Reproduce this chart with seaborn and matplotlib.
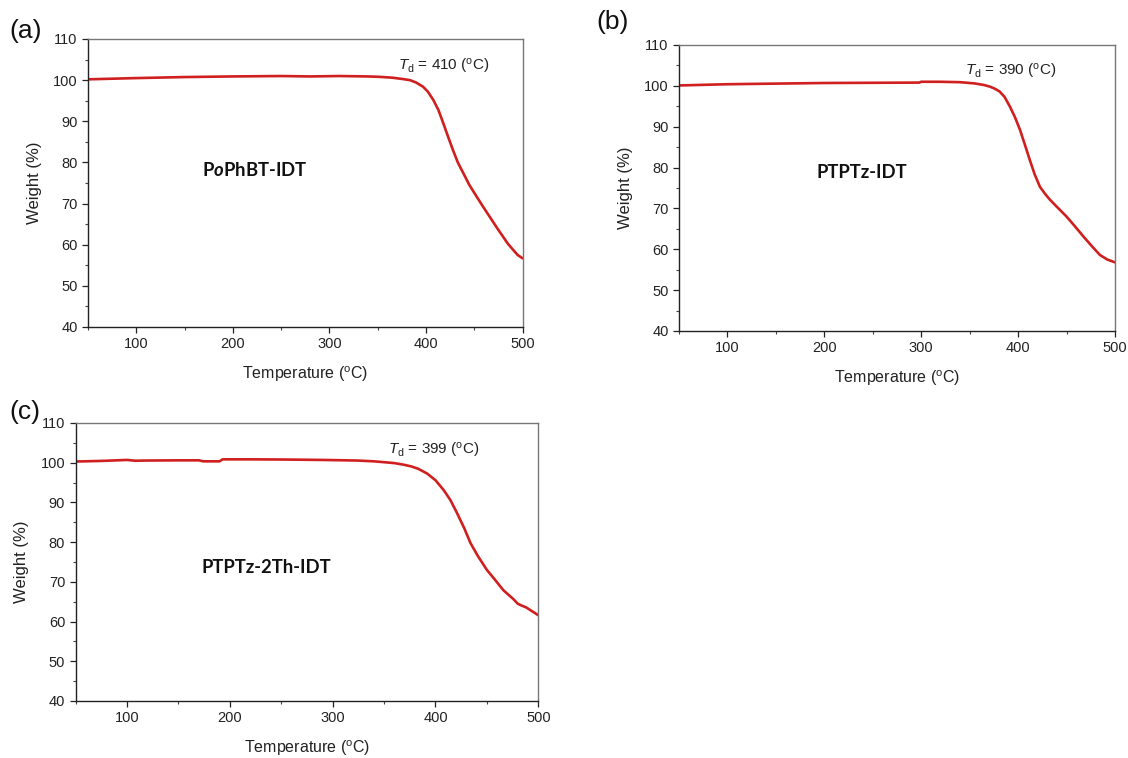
import matplotlib
matplotlib.use("Agg")
import matplotlib.pyplot as plt
import seaborn as sns
import pandas as pd
from matplotlib.ticker import MultipleLocator

sns.set_style("ticks")
plt.rcParams['font.family'] = ['Liberation Sans', 'DejaVu Sans']
plt.rcParams['mathtext.fontset'] = 'custom'
plt.rcParams['mathtext.rm'] = 'Liberation Sans'
plt.rcParams['mathtext.it'] = 'Liberation Sans:italic'
plt.rcParams['mathtext.bf'] = 'Lato:bold'
plt.rcParams['mathtext.bfit'] = 'Lato:bold:italic'

# ---- data ----
temp_a = [50, 75, 100, 150, 200, 250, 280, 310, 340, 352, 365, 375, 383.5, 390, 397, 402,
          407.6, 413, 418, 423, 428, 433, 438.7, 445, 452.5, 459, 466, 473, 480, 485, 490.5, 495, 500]
weight_a = [100.2, 100.35, 100.5, 100.75, 100.9, 101.0, 100.9, 101.0, 100.9, 100.8, 100.6, 100.3, 100.0,
            99.4, 98.4, 97.2, 95.2, 92.7, 89.5, 86.2, 83.0, 80.0, 77.4, 74.5, 71.7, 69.3, 66.8, 64.3,
            61.9, 60.2, 58.7, 57.5, 56.7]

temp_b = [50, 100, 150, 200, 250, 298, 300, 319, 340, 355, 365, 371, 376, 381, 386, 391.6, 397, 402,
          407, 412, 417, 422.5, 428, 433, 440, 450, 458, 467.5, 476, 484.5, 492, 500]
weight_b = [100.1, 100.4, 100.55, 100.7, 100.75, 100.8, 101.0, 101.0, 100.9, 100.6, 100.2, 99.8, 99.3,
            98.6, 97.3, 94.9, 92.2, 89.2, 85.6, 81.9, 78.4, 75.3, 73.5, 72.1, 70.4, 68.0, 65.8, 63.1,
            60.8, 58.6, 57.5, 56.8]

temp_c = [50, 75, 100, 108, 120, 150, 170, 174, 190, 193, 220, 254, 290, 323.6, 340, 351.5, 360, 369,
          376, 383, 391.7, 400, 408, 414.5, 421, 428, 434, 441, 450, 458, 466, 476, 480, 484, 488, 494, 500]
weight_c = [100.3, 100.45, 100.7, 100.5, 100.55, 100.6, 100.6, 100.35, 100.35, 100.85, 100.85, 100.8,
            100.7, 100.55, 100.35, 100.1, 99.9, 99.5, 99.1, 98.5, 97.3, 95.6, 93.1, 90.6, 87.3, 83.5,
            79.8, 76.6, 73.0, 70.5, 67.9, 65.6, 64.5, 64.0, 63.6, 62.6, 61.6]

td_values = [410, 390, 399]
sample_names = ["P$\\mathbfit{o}$PhBT-IDT", "PTPTz-IDT", "PTPTz-2Th-IDT"]
panel_tags = ["(a)", "(b)", "(c)"]
x_ticks = [100, 200, 300, 400, 500]
y_ticks = [40, 50, 60, 70, 80, 90, 100, 110]

series = [(temp_a, weight_a), (temp_b, weight_b), (temp_c, weight_c)]

fig = plt.figure(figsize=(11.28, 7.58), dpi=100)
rects = [
    (88/1128, 1-327/758, (522.5-88)/1128, (327-39)/758),
    (679/1128, 1-331/758, (1115-679)/1128, (331-45)/758),
    (75.6/1128, 1-701/758, (538.3-75.6)/1128, (701-423)/758),
]
# annotation positions (data coords)
td_pos = [(371, 103.2), (345, 103.4), (354, 103.2)]
name_pos = [(223, 78.2), (239, 78.9), (235, 73.7)]
tag_pos = [(9/1128, 1-31/758), (596/1128, 1-22/758), (9/1128, 1-412/758)]

red = "#cf1f1f"
for i, ((t, w), r) in enumerate(zip(series, rects)):
    ax = fig.add_axes(r)
    df = pd.DataFrame({"Temperature": t, "Weight": w})
    sns.lineplot(data=df, x="Temperature", y="Weight", ax=ax, color=red, linewidth=1.9,
                 sort=True, estimator=None, solid_joinstyle='round', solid_capstyle='round')
    ax.set_xlim(50, 500)
    ax.set_ylim(40, 110)
    ax.set_xticks(x_ticks)
    ax.set_yticks(y_ticks)
    ax.xaxis.set_minor_locator(MultipleLocator(50))
    ax.yaxis.set_minor_locator(MultipleLocator(5))
    ax.tick_params(axis='both', which='major', direction='out', length=4.5, width=0.9,
                   labelsize=10.5, colors='#222222', pad=3)
    ax.tick_params(axis='both', which='minor', direction='out', length=2.5, width=0.8,
                   colors='#444444')
    for s in ['left', 'bottom']:
        ax.spines[s].set_color('#222222')
        ax.spines[s].set_linewidth(1.0)
    for s in ['top', 'right']:
        ax.spines[s].set_color('#777777')
        ax.spines[s].set_linewidth(1.0)
        ax.spines[s].set_visible(True)
    ax.set_xlabel("Temperature ($\\mathregular{^o}$C)", fontsize=11.5, color='#222222', labelpad=9)
    ax.set_ylabel("Weight (%)", fontsize=12, color='#222222', labelpad=8)
    tx, ty = td_pos[i]
    ax.text(tx, ty, f"$T_\\mathregular{{d}}$ = {td_values[i]} ($\\mathregular{{^o}}$C)",
            fontsize=11, ha='left', va='center', color='#222222')
    nx, ny = name_pos[i]
    ax.text(nx, ny, sample_names[i], fontsize=13.3, fontweight='bold', family='Lato',
            ha='center', va='center', color='#111111')
    fig.text(tag_pos[i][0], tag_pos[i][1], panel_tags[i], fontsize=19, ha='left', va='center',
             color='#111111')

fig.savefig("out.png", dpi=100, facecolor='white')
